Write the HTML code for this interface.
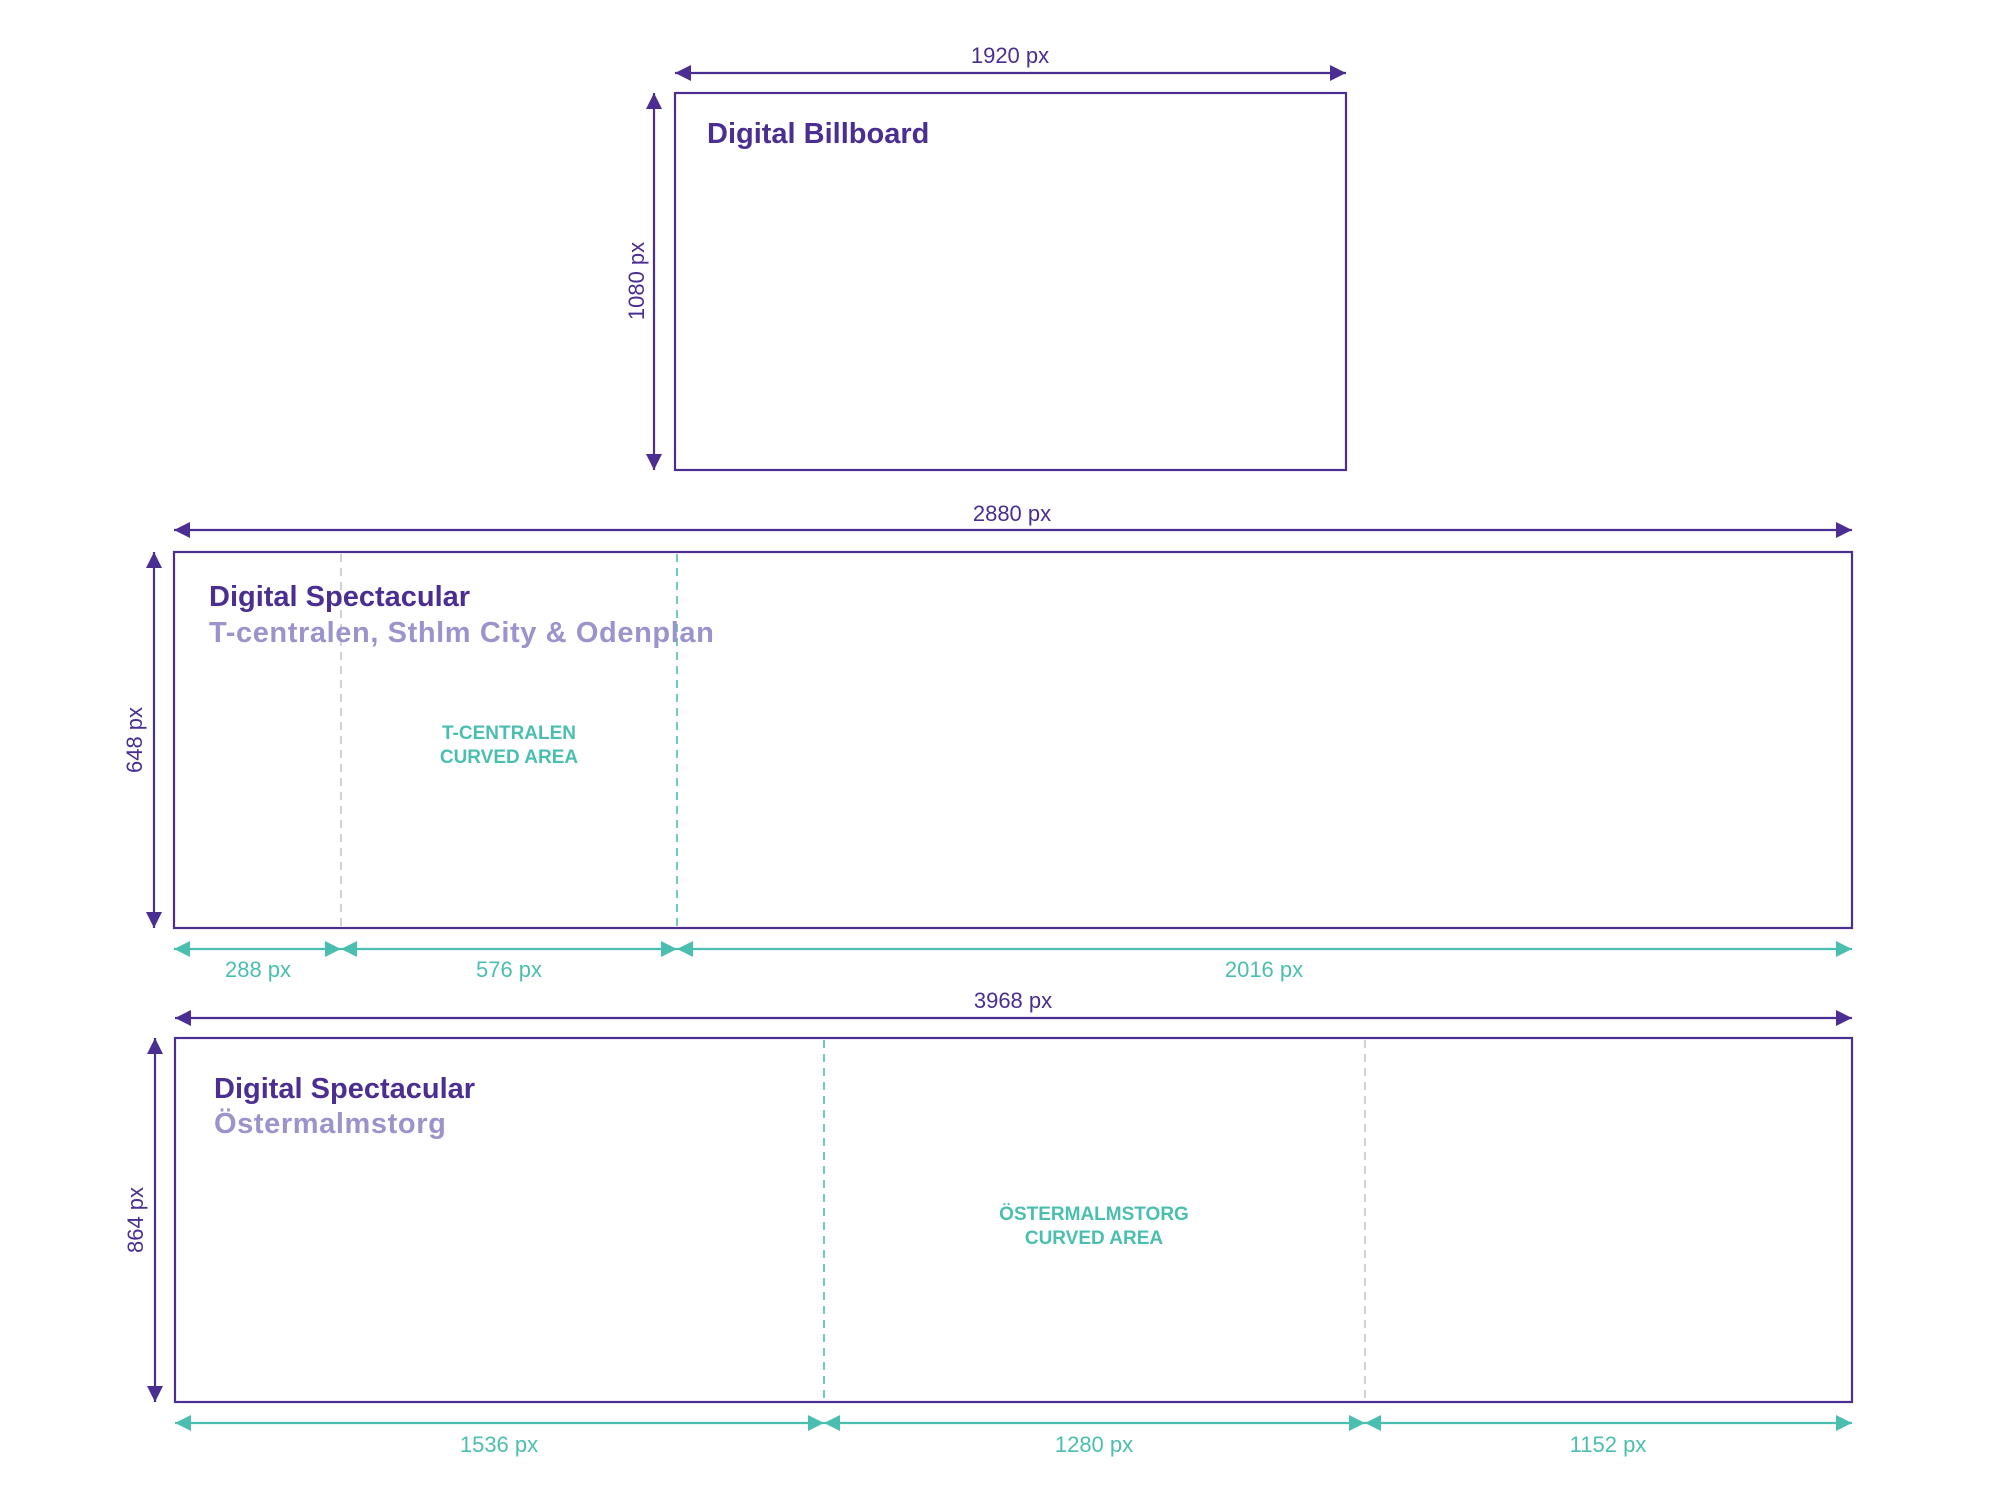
<!DOCTYPE html>
<html><head><meta charset="utf-8"><style>
html,body{margin:0;padding:0;background:#fff;}
svg{display:block;}
text{font-family:"Liberation Sans",sans-serif;}
.d{fill:#4b2e91;font-size:22px;}
.t{fill:#4bbfaf;font-size:22px;}
.h{fill:#4b2e91;font-size:29px;font-weight:bold;}
.s{fill:#9b93cb;font-size:29px;font-weight:bold;letter-spacing:0.6px;}
.c{fill:#4bbfaf;font-size:19px;font-weight:bold;}
</style></head><body>
<svg width="2001" height="1501" viewBox="0 0 2001 1501" xmlns="http://www.w3.org/2000/svg">
<defs>
<marker id="pa" viewBox="0 0 10 10" refX="10" refY="5" markerWidth="16" markerHeight="16" markerUnits="userSpaceOnUse" orient="auto-start-reverse"><path d="M0,0L10,5L0,10z" fill="#4b2e91"/></marker>
<marker id="ta" viewBox="0 0 10 10" refX="10" refY="5" markerWidth="16" markerHeight="16" markerUnits="userSpaceOnUse" orient="auto-start-reverse"><path d="M0,0L10,5L0,10z" fill="#4bbfaf"/></marker>
</defs>
<g stroke-width="2.2" fill="none">
<line x1="675" y1="73" x2="1346" y2="73" stroke="#4b2e91" marker-start="url(#pa)" marker-end="url(#pa)"/>
<rect x="675" y="93" width="671" height="377" stroke="#4b2e91"/>
<line x1="654" y1="93" x2="654" y2="470" stroke="#4b2e91" marker-start="url(#pa)" marker-end="url(#pa)"/>

<line x1="174" y1="530" x2="1852" y2="530" stroke="#4b2e91" marker-start="url(#pa)" marker-end="url(#pa)"/>
<rect x="174" y="552" width="1678" height="376" stroke="#4b2e91"/>
<line x1="154" y1="552" x2="154" y2="928" stroke="#4b2e91" marker-start="url(#pa)" marker-end="url(#pa)"/>
<line x1="341" y1="554" x2="341" y2="927" stroke="#b8b8c8" stroke-width="1.3" stroke-dasharray="8,6"/>
<line x1="677" y1="554" x2="677" y2="927" stroke="#4bbfaf" stroke-width="1.6" stroke-dasharray="8,6"/>
<line x1="174" y1="949" x2="341" y2="949" stroke="#4bbfaf" marker-start="url(#ta)" marker-end="url(#ta)"/>
<line x1="341" y1="949" x2="677" y2="949" stroke="#4bbfaf" marker-start="url(#ta)" marker-end="url(#ta)"/>
<line x1="677" y1="949" x2="1852" y2="949" stroke="#4bbfaf" marker-start="url(#ta)" marker-end="url(#ta)"/>

<line x1="175" y1="1018" x2="1852" y2="1018" stroke="#4b2e91" marker-start="url(#pa)" marker-end="url(#pa)"/>
<rect x="175" y="1038" width="1677" height="364" stroke="#4b2e91"/>
<line x1="155" y1="1038" x2="155" y2="1402" stroke="#4b2e91" marker-start="url(#pa)" marker-end="url(#pa)"/>
<line x1="824" y1="1040" x2="824" y2="1401" stroke="#4bbfaf" stroke-width="1.6" stroke-dasharray="8,6"/>
<line x1="1365" y1="1040" x2="1365" y2="1401" stroke="#b8b8c8" stroke-width="1.3" stroke-dasharray="8,6"/>
<line x1="175" y1="1423" x2="824" y2="1423" stroke="#4bbfaf" marker-start="url(#ta)" marker-end="url(#ta)"/>
<line x1="824" y1="1423" x2="1365" y2="1423" stroke="#4bbfaf" marker-start="url(#ta)" marker-end="url(#ta)"/>
<line x1="1365" y1="1423" x2="1852" y2="1423" stroke="#4bbfaf" marker-start="url(#ta)" marker-end="url(#ta)"/>
</g>
<text class="d" x="1010" y="63" text-anchor="middle">1920 px</text>
<text class="d" transform="translate(644,281) rotate(-90)" text-anchor="middle">1080  px</text>
<text class="h" x="707" y="143">Digital Billboard</text>

<text class="d" x="1012" y="521" text-anchor="middle">2880 px</text>
<text class="d" transform="translate(142,740) rotate(-90)" text-anchor="middle">648  px</text>
<text class="h" x="209" y="606">Digital Spectacular</text>
<text class="s" x="209" y="642">T-centralen, Sthlm City &amp; Odenplan</text>
<text class="c" x="509" y="739" text-anchor="middle">T-CENTRALEN</text>
<text class="c" x="509" y="763" text-anchor="middle">CURVED AREA</text>
<text class="t" x="258" y="977" text-anchor="middle">288 px</text>
<text class="t" x="509" y="977" text-anchor="middle">576 px</text>
<text class="t" x="1264" y="977" text-anchor="middle">2016 px</text>

<text class="d" x="1013" y="1008" text-anchor="middle">3968 px</text>
<text class="d" transform="translate(143,1220) rotate(-90)" text-anchor="middle">864  px</text>
<text class="h" x="214" y="1098">Digital Spectacular</text>
<text class="s" x="214" y="1133">Östermalmstorg</text>
<text class="c" x="1094" y="1220" text-anchor="middle">ÖSTERMALMSTORG</text>
<text class="c" x="1094" y="1244" text-anchor="middle">CURVED AREA</text>
<text class="t" x="499" y="1452" text-anchor="middle">1536 px</text>
<text class="t" x="1094" y="1452" text-anchor="middle">1280 px</text>
<text class="t" x="1608" y="1452" text-anchor="middle">1152 px</text>
</svg>
</body></html>
